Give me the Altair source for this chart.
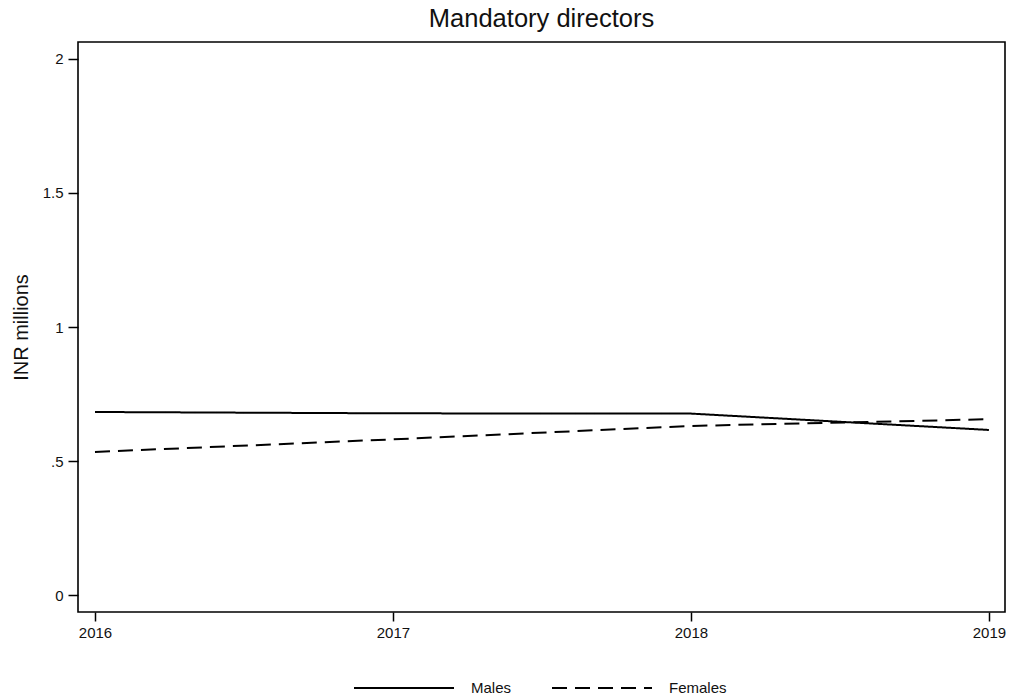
import altair as alt
import pandas as pd

years = [2016, 2017, 2018, 2019]
males = [0.683, 0.678, 0.677, 0.616]
females = [0.534, 0.581, 0.631, 0.656]

series_names = ["Males", "Females"]

df = pd.DataFrame(
    {
        "year": years * 2,
        "value": males + females,
        "sex": [series_names[0]] * len(years) + [series_names[1]] * len(years),
    }
)

FONT = "Liberation Sans"

y_label_expr = (
    "datum.value == 0 ? '0' : datum.value == 0.5 ? '.5' : "
    "datum.value == 1 ? '1' : datum.value == 1.5 ? '1.5' : '2'"
)

chart = (
    alt.Chart(df)
    .mark_line(strokeWidth=2, color="black")
    .encode(
        x=alt.X(
            "year:Q",
            scale=alt.Scale(domain=[2015.943, 2019.054], nice=False, zero=False),
            axis=alt.Axis(
                values=years,
                format="d",
                title=None,
                grid=False,
                domain=False,
                tickColor="black",
                tickWidth=1.5,
                tickSize=9,
                labelPadding=4,
                labelFontSize=15,
                labelFont=FONT,
                labelColor="#111",
            ),
        ),
        y=alt.Y(
            "value:Q",
            scale=alt.Scale(domain=[-0.063, 2.063], nice=False, zero=False),
            axis=alt.Axis(
                values=[0, 0.5, 1, 1.5, 2],
                labelExpr=y_label_expr,
                title="INR millions",
                titleFont=FONT,
                titleFontSize=20,
                titleFontWeight="normal",
                titleColor="#111",
                titleAngle=-90,
                titleX=-51,
                titleY=285,
                titleAlign="center",
                titleBaseline="alphabetic",
                grid=False,
                domain=False,
                tickColor="black",
                tickWidth=1.5,
                tickSize=10,
                labelPadding=5,
                labelFontSize=15,
                labelFont=FONT,
                labelColor="#111",
            ),
        ),
        strokeDash=alt.StrokeDash(
            "sex:N",
            scale=alt.Scale(domain=series_names, range=[[1, 0], [15, 8]]),
            sort=series_names,
            legend=alt.Legend(
                title=None,
                orient="none",
                direction="horizontal",
                legendX=275,
                legendY=595,
                symbolType="stroke",
                symbolSize=10000,
                symbolStrokeWidth=2,
                symbolStrokeColor="black",
                labelFont=FONT,
                labelFontSize=15,
                labelColor="#111",
                labelOffset=16,
                columnPadding=36,
                padding=0,
            ),
        ),
    )
    .properties(
        width=927,
        height=570,
        background="white",
        title=alt.TitleParams(
            "Mandatory directors",
            font=FONT,
            fontSize=25.5,
            fontWeight="normal",
            color="#111",
            anchor="middle",
            offset=10,
        ),
        autosize=alt.AutoSizeParams(type="none"),
        padding={"left": 78, "top": 42, "right": 5, "bottom": 88},
    )
    .configure_view(stroke="black", strokeWidth=1.6)
)

chart.save("out.html", embed_options={"renderer": "svg", "actions": False})
